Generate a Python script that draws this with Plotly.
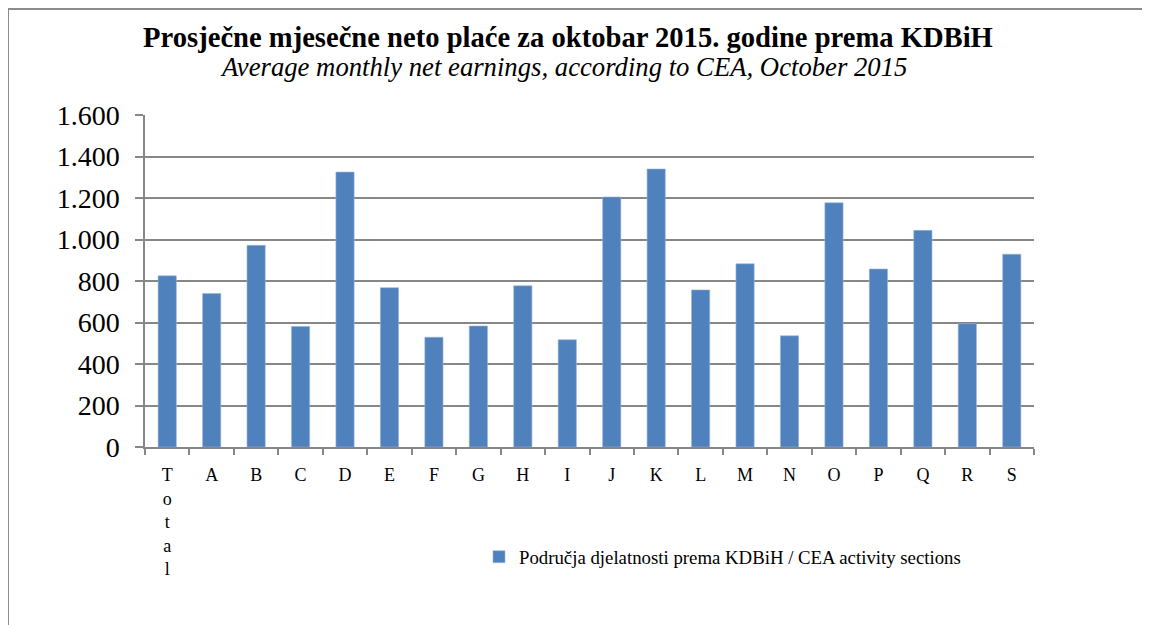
import plotly.graph_objects as go

categories = ["Total", "A", "B", "C", "D", "E", "F", "G", "H", "I",
              "J", "K", "L", "M", "N", "O", "P", "Q", "R", "S"]
tick_labels = ["T<br>o<br>t<br>a<br>l", "A", "B", "C", "D", "E", "F", "G", "H", "I",
               "J", "K", "L", "M", "N", "O", "P", "Q", "R", "S"]
earnings = [825, 740, 972, 581, 1325, 768, 529, 583, 777, 517,
            1205, 1340, 757, 883, 536, 1177, 858, 1044, 594, 929]
series_name = "Područja djelatnosti prema KDBiH / CEA activity sections"
title_text = "Prosječne mjesečne neto plaće za oktobar 2015. godine prema KDBiH"
subtitle_text = "Average monthly net earnings, according to CEA, October 2015"

SERIF = "Liberation Serif"
GRID = "#878787"

# screen coordinates of plot area in the reference (page has 8px body offset)
PL, PR, PT, PB = 145, 1034, 115, 447
PW, PH = PR - PL, PB - PT

fig = go.Figure()
fig.add_trace(go.Bar(
    x=categories, y=earnings, name=series_name,
    marker=dict(color="#4F81BD", line=dict(color="#9DB7DA", width=0.6)),
    showlegend=True,
))

fig.update_layout(
    width=1142, height=617,
    margin=dict(l=PL - 8, r=1142 - (PR - 8), t=PT - 8, b=617 - (PB - 8)),
    paper_bgcolor="white", plot_bgcolor="white",
    separators=",.",
    bargap=0.59,
    title=dict(text="<b>" + title_text + "</b>", x=(568 - 8) / 1142, xanchor="center",
               y=1 - (37 - 8) / 617, yanchor="middle",
               font=dict(family=SERIF, size=28.6, color="black")),
    annotations=[dict(text="<i>" + subtitle_text + "</i>", xref="paper", yref="paper",
                      x=(563 - PL) / PW, y=(PB - 67) / PH, xanchor="center",
                      yanchor="middle", showarrow=False,
                      font=dict(family=SERIF, size=26.7, color="black"))],
    legend=dict(orientation="h", x=(479 - PL) / PW, xanchor="left",
                y=(PB - 557) / PH, yanchor="middle",
                font=dict(family=SERIF, size=18.8, color="black"),
                itemwidth=30, bgcolor="rgba(0,0,0,0)"),
    shapes=[dict(type="rect", xref="paper", yref="paper",
                 x0=(8 - PL) / PW, x1=(1200 - PL) / PW,
                 y0=(PB - 700) / PH, y1=(PB - 9) / PH,
                 line=dict(color="#8C8C8C", width=2), layer="below")],
)

fig.update_xaxes(
    type="category", tickvals=categories, ticktext=tick_labels,
    showline=True, linecolor=GRID, linewidth=1.5,
    ticks="outside", ticklen=6, tickcolor=GRID, tickwidth=1.5,
    tickson="boundaries", showgrid=False,
    tickfont=dict(family=SERIF, size=18, color="black"),
    ticklabelstandoff=11,
)
fig.update_yaxes(
    range=[0, 1600], dtick=200, tickformat=",d",
    showline=True, linecolor=GRID, linewidth=1.5,
    showgrid=True, gridcolor=GRID, gridwidth=1.5,
    ticks="outside", ticklen=8, tickcolor=GRID, tickwidth=1.5,
    tickfont=dict(family=SERIF, size=28, color="black"),
    ticklabelstandoff=10, zeroline=False,
)

fig.write_html("out.html")
